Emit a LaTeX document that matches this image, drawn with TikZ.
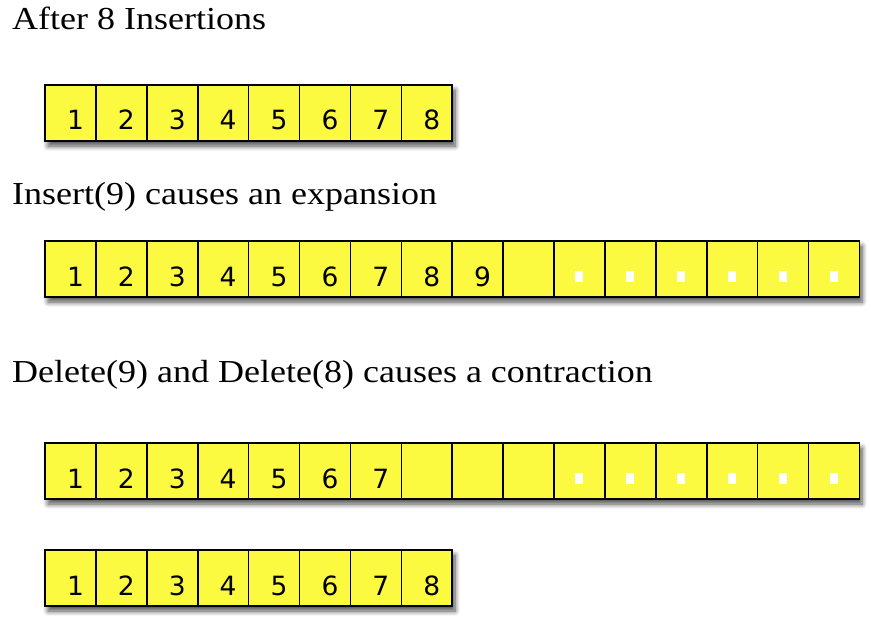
\documentclass[tikz,border=0pt]{standalone}
\usepackage{fontspec}
\setmainfont[FakeStretch=1.125]{Liberation Serif}
\newfontfamily\cellfont{DejaVu Sans}
\usetikzlibrary{shadows.blur}
\definecolor{cellyellow}{RGB}{252,250,64}
\tikzset{
  x=1pt,y=1pt,
  cellbox/.style={draw=black, line width=1.6pt, fill=cellyellow, minimum width=50.9pt, minimum height=56pt,
    inner sep=0pt, outer sep=0pt, anchor=north west, font=\cellfont\fontsize{26.5}{26.5}\selectfont,
    text height=34pt, text depth=0pt, execute at begin node={\hspace*{10pt}}},
  rowshadow/.style={fill=white, draw=none, blur shadow={shadow xshift=3pt, shadow yshift=-5pt, shadow blur steps=8, shadow blur radius=5pt, shadow opacity=70}},
  ttl/.style={anchor=base west, inner sep=0pt, font=\fontsize{32}{32}\selectfont},
  gap/.style={fill=white, draw=none, minimum width=8pt, minimum height=11pt, inner sep=0pt}
}
\begin{document}
\begin{tikzpicture}
\useasboundingbox (0,0) rectangle (871,-623);
\node[ttl] (t1) at (12,-30) {After 8 Insertions};
\node[ttl] (t2) at (12,-205) {Insert(9) causes an expansion};
\node[ttl] (t3) at (12,-382) {Delete(9) and Delete(8) causes a contraction};
% row 1
\fill[rowshadow] (45,-85) rectangle (452,-141);
\foreach \i in {1,...,8} {
  \node[cellbox] (a\i) at ({45+(\i-1)*50.9},-85) {\i};
}
% row 2
\fill[rowshadow] (45,-241) rectangle (859,-297);
\foreach \i/\t in {1/1,2/2,3/3,4/4,5/5,6/6,7/7,8/8,9/9,10/,11/,12/,13/,14/,15/,16/} {
  \node[cellbox] (b\i) at ({45+(\i-1)*50.9},-241) {\t};
}
\foreach \i in {11,...,16} {
  \node[gap] (bg\i) at ([yshift=-7pt]b\i.center) {};
}
% row 3
\fill[rowshadow] (45,-443) rectangle (859,-499);
\foreach \i/\t in {1/1,2/2,3/3,4/4,5/5,6/6,7/7,8/,9/,10/,11/,12/,13/,14/,15/,16/} {
  \node[cellbox] (c\i) at ({45+(\i-1)*50.9},-443) {\t};
}
\foreach \i in {11,...,16} {
  \node[gap] (cg\i) at ([yshift=-7pt]c\i.center) {};
}
% row 4
\fill[rowshadow] (45,-550) rectangle (452,-606);
\foreach \i in {1,...,8} {
  \node[cellbox] (d\i) at ({45+(\i-1)*50.9},-550) {\i};
}
\end{tikzpicture}
\end{document}
